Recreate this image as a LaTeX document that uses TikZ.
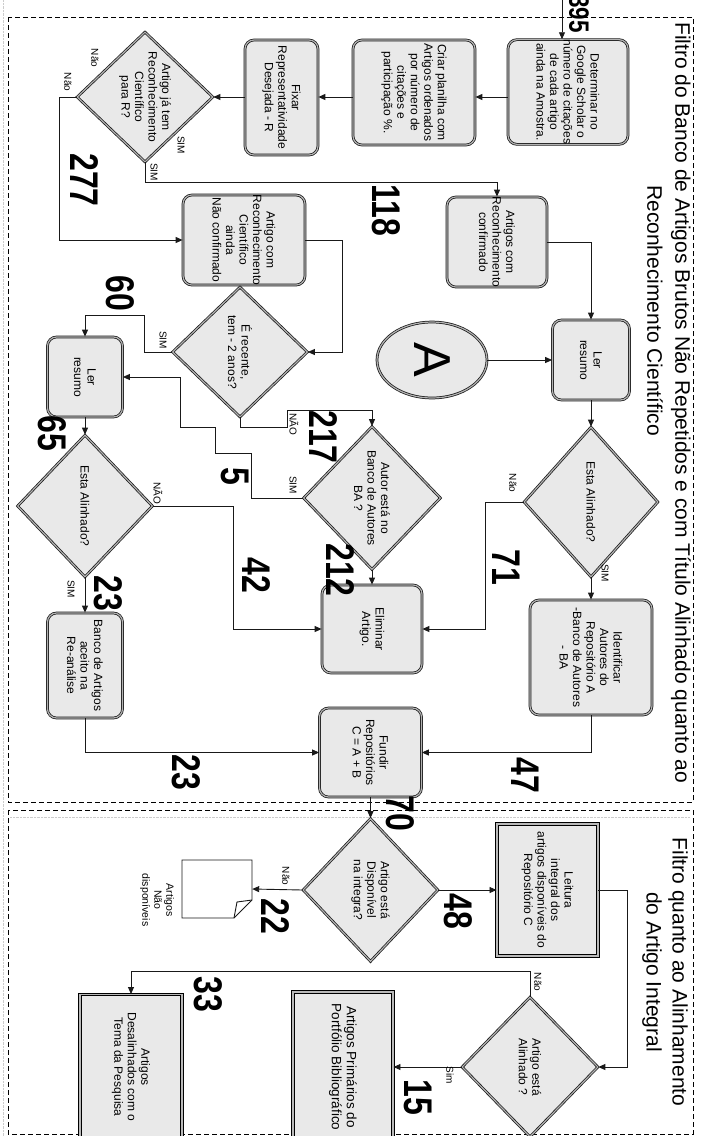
\documentclass[tikz,border=0pt]{standalone}
\usepackage{fontspec}
\setmainfont{Liberation Sans}
\newfontfamily\cntfont{Liberation Sans}[FakeStretch=0.8]
\usetikzlibrary{shapes.geometric,arrows.meta}
\definecolor{boxgray}{HTML}{E9E9E9}

\tikzset{
  edge/.style={line width=0.9pt, black!90},
  flow/.style={edge, -{Triangle[length=7pt,width=6pt]}},
  frame/.style={line width=0.8pt, dash pattern=on 5pt off 3pt},
  rbox/.style={rectangle, rounded corners=9pt, draw=black!90, line width=0.75pt,
    double=gray!60, double distance=1.2pt, fill=boxgray, rotate=-90,
    align=center, inner sep=0pt, font=\fontsize{12}{13.5}\selectfont},
  sbox/.style={rbox, sharp corners, draw=black, line width=0.95pt,
    double=gray!55, double distance=1.6pt},
  decision/.style={diamond, draw=black!90, line width=0.75pt, double=gray!60,
    double distance=1.2pt, fill=boxgray, rotate=-90, align=center,
    inner sep=-10pt, font=\fontsize{12}{13.5}\selectfont},
  answer/.style={rotate=-90, inner sep=0pt, font=\fontsize{10}{10}\selectfont},
  count/.style={rotate=-90, inner sep=0pt, font=\cntfont\bfseries\fontsize{40}{40}\selectfont},
  title/.style={rotate=-90, inner sep=0pt, font=\fontsize{21}{26}\selectfont}
}

\begin{document}
\begin{tikzpicture}[x=1pt,y=-1pt]
    \useasboundingbox (0,0) rectangle (710,1136);
    \clip (0,0) rectangle (710,1136);

    % frames
    \draw[gray!40, densely dotted] (3,0) -- (3,1136);
    \draw[gray!40, densely dotted] (10,817) -- (690,817);
    \draw[frame] (8,17) rectangle (693,802);
    \draw[frame] (8,810) rectangle (693,1134);

    \node[title, anchor=west] (tit1a) at (681,22) {Filtro do Banco de Artigos Brutos Não Repetidos e com Título Alinhado quanto ao};
    \node[title, anchor=west] (tit1b) at (655,185) {Reconhecimento Científico};
    \node[title, align=center] (tit2) at (665,972) {Filtro quanto ao Alinhamento\\do Artigo Integral};

    % first filter
    \coordinate (in395) at (562,0);
    \node[rbox, minimum width=103pt, minimum height=120pt] (det) at (568,92) {Determinar no\\Google Scholar o\\número de citações\\de cada artigo\\ainda na Amostra.};
    \node[rbox, minimum width=105pt, minimum height=122pt] (criar) at (414,92.5) {Criar planilha com\\Artigos ordenados\\por número de\\citações e\\participação \%.};
    \node[rbox, minimum width=115pt, minimum height=73pt] (fixar) at (281.5,97.5) {Fixar\\Representatividade\\Desejada - R};
    \node[decision, minimum width=130pt, minimum height=136pt] (d1) at (145,97) {Artigo já tem\\Reconhecimento\\Científico\\para R?};
    \node[rbox, minimum width=90pt, minimum height=122pt] (acnc) at (244,240) {Artigo com\\Reconhecimento\\Científico\\ainda\\Não confirmado};
    \node[rbox, minimum width=90pt, minimum height=100pt] (acc) at (497,242) {Artigos com\\Reconhecimento\\confirmado};
    \node[rbox, minimum width=80pt, minimum height=77pt] (ler1) at (591,360) {Ler\\resumo};
    \node[ellipse, draw=black!90, line width=0.75pt, double=gray!60, double distance=1.2pt,
      fill=boxgray, rotate=-90, inner sep=0pt, minimum width=76pt, minimum height=110pt,
      font=\fontsize{52}{52}\selectfont] (cA) at (432,360) {A};
    \node[decision, minimum width=150pt, minimum height=134pt] (d2) at (591,502) {Esta Alinhado?};
    \node[rbox, minimum width=115pt, minimum height=122pt] (ident) at (591,657.5) {Identificar\\Autores do\\Repositório A\\-Banco de Autores\\- BA};
    \node[decision, minimum width=130pt, minimum height=135pt] (d3) at (240,352) {É recente,\\tem - 2 anos?};
    \node[decision, minimum width=143pt, minimum height=137pt] (d4) at (372,498) {Autor está no\\Banco de Autores\\BA ?};
    \node[rbox, minimum width=88pt, minimum height=100pt] (elim) at (372,629) {Eliminar\\Artigo.};
    \node[rbox, minimum width=89pt, minimum height=102pt] (fundir) at (370.5,752.5) {Fundir\\Repositórios\\C = A + B};
    \node[rbox, minimum width=80pt, minimum height=75pt] (ler2) at (85,377) {Ler\\resumo};
    \node[decision, minimum width=142pt, minimum height=135pt] (d6) at (85,506) {Esta Alinhado?};
    \node[rbox, minimum width=105pt, minimum height=75pt] (banco) at (85,665.5) {Banco de Artigos\\aceito na\\Re-análise};

    % second filter
    \node[decision, minimum width=143pt, minimum height=135pt] (d5) at (370.5,890) {Artigo está\\Disponível\\na integra?};
    \node[rectangle, rotate=-90, minimum width=58pt, minimum height=70pt] (nodisp) at (217,889) {};
    \filldraw[edge, fill=white] (182,860) -- (252,860) -- (252,900) -- (234,918) -- (182,918) -- cycle;
    \draw[edge] (252,900) -- (237,902) -- (234,918);
    \node[rotate=-90, align=center, font=\fontsize{10.5}{12}\selectfont] (nodisptxt) at (157,900) {Artigos\\Não\\disponíveis};
    \node[sbox, minimum width=132pt, minimum height=101pt] (leit) at (547.5,890) {Leitura\\integral dos\\artigos disponíveis do\\Repositório C};
    \node[decision, minimum width=140pt, minimum height=136pt] (d8) at (530,1067) {Artigo está\\Alinhado ?};
    \node[sbox, minimum width=150pt, minimum height=100pt, font=\fontsize{13.5}{15}\selectfont] (prim) at (343,1067) {Artigos Primários do\\Portfólio Bibliográfico};
    \node[sbox, minimum width=145pt, minimum height=102pt] (desal) at (131,1067) {Artigos\\Desalinhados com o\\Tema da Pesquisa};

    % connectors
    \draw[flow] (in395) -- (in395 |- det.west);
    \draw[flow] (det.south |- d1) -- (criar.north |- d1);
    \draw[flow] (criar.south |- d1) -- (fixar.north |- d1);
    \draw[flow] (fixar.south |- d1) -- (d1.north);
    \draw[flow] (d1.south) -- ++(-17,0) |- (acnc.south);
    \draw[flow] (d1.east) -- ++(0,20) -| (acc.west);
    \draw[flow] (acc.north) -| (ler1.west);
    \draw[flow] (cA.north) -- (ler1.south);
    \draw[flow] (ler1.east) -- (d2.west);
    \draw[flow] (d2.south) -- ++(-38,0) |- (elim.north);
    \draw[flow] (d2.east) -- (ident.west);
    \draw[flow] (ident.east) |- (fundir.north);
    \draw[flow] (acnc.north) -- ++(37,0) |- (d3.north);
    \draw[flow] (d3.south) -- ++(-28,0) -- ++(0,-37) -| (ler2.west);
    \draw[flow] (d3.east) -- ++(0,10) -- ++(47,0) -- ++(0,-17) -| (d4.west);
    \draw[flow] (d4.south) -- ++(-52,0) -- ++(0,-45) -- ++(-36,0) -- ++(0,-26) -- ++(-35,0) |- (ler2.north);
    \draw[flow] (d4.east) -- (elim.west);
    \draw[flow] (ler2.east) -- (d6.west);
    \draw[flow] (d6.north) -- ++(81,0) |- (elim.south);
    \draw[flow] (d6.east) -- (banco.west);
    \draw[flow] (banco.east) |- (fundir.south);
    \draw[flow] (fundir.east) -- (d5.west);
    \draw[flow] (d5.north) -- (leit.south);
    \draw[flow] (d5.south) -- (nodisp.north);
    \draw[flow] (leit.north) -- ++(29,0) |- (d8.north);
    \draw[flow] (d8.west) -- ++(0,-25) -| (desal.west);
    \draw[flow] (d8.south) -- (prim.north);

    % answers
    \node[answer] (a1) at (95,58) {Não};
    \node[answer] (a2) at (68,82) {Não};
    \node[answer] (a3) at (181,145) {SIM};
    \node[answer] (a4) at (154,172) {SIM};
    \node[answer] (a5) at (513,483) {Não};
    \node[answer] (a6) at (605,573) {SIM};
    \node[answer] (a7) at (163,340) {SIM};
    \node[answer] (a8) at (294,424) {NÃO};
    \node[answer] (a9) at (293,485) {SIM};
    \node[answer] (a10) at (158,493) {NÃO};
    \node[answer] (a11) at (71,589) {SIM};
    \node[answer] (a12) at (286,876) {Não};
    \node[answer] (a13) at (538,982) {Não};
    \node[answer] (a14) at (450,1075) {Sim};

    % counts
    \node[count, font=\cntfont\bfseries\fontsize{28}{28}\selectfont] (n395) at (579,14) {395};
    \node[count] (n277) at (84,180) {277};
    \node[count] (n118) at (386,210) {118};
    \node[count] (n60) at (120,293) {60};
    \node[count] (n217) at (323,437) {217};
    \node[count] (n5) at (235,476) {5};
    \node[count] (n65) at (52,433) {65};
    \node[count] (n212) at (340,570) {212};
    \node[count] (n42) at (256,575) {42};
    \node[count] (n71) at (506,567) {71};
    \node[count] (n23a) at (108,593) {23};
    \node[count] (n23b) at (186,772) {23};
    \node[count] (n47) at (525,775) {47};
    \node[count] (n70) at (400,813) {70};
    \node[count] (n48) at (458,911) {48};
    \node[count] (n22) at (275,916) {22};
    \node[count] (n33) at (208,994) {33};
    \node[count] (n15) at (418,1097) {15};
\end{tikzpicture}
\end{document}
